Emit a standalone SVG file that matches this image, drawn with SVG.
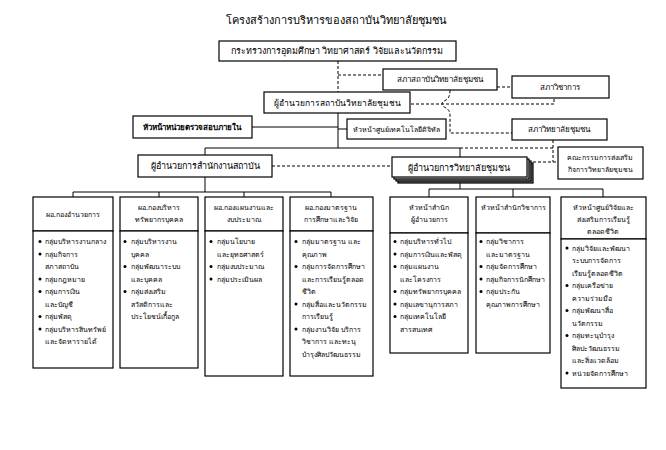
<svg xmlns="http://www.w3.org/2000/svg" width="666" height="450" viewBox="0 0 666 450">
<style>
text{font-family:"Noto Sans","DejaVu Sans",sans-serif;fill:#000}
.t{font-size:11px}
.m{font-size:8.5px}
.h{font-size:9px}
.s{font-size:8px}
.b{font-size:7px}
.c{text-anchor:middle}
.box{fill:#fff;stroke:#000;stroke-width:1.2}
.ln{fill:none;stroke:#000;stroke-width:1}
.dl{fill:none;stroke:#000;stroke-width:1;stroke-dasharray:3,2}
.dot{fill:#000}
</style>
<rect width="666" height="450" fill="#fff"/>
<text class="t c" x="336" y="24">โครงสร้างการบริหารของสถาบันวิทยาลัยชุมชน</text>

<g id="connectors">
<path class="dl" d="M338,61 V92 M338,75 H383 M497,87 H512 M411,104 H554 V98 M450,90 Q450,98 446,100 Q442,102 442,104 Q442,106 446,108 Q450,110 450,116 V133 H512"/>
<path class="ln" d="M338,113 V148 M252,127 H338 M338,129 H347 M205,148 H460 M205,148 V155 M460,148 V157"/>
<path class="dl" d="M460,148 H553 M553,140 V162 M272,166 H392 M533,162 H558"/>
<path class="ln" d="M205,177 V192 M73,192 H331 M73,192 V197 M159,192 V197 M244,192 V197 M331,192 V197"/>
<path class="ln" d="M460,183 V189 M429,189 H603 M429,189 V197 M513,189 V197 M603,189 V197"/>
</g>

<g id="ministry"><rect class="box" x="219" y="41" width="237" height="20"/><text class="h c" x="337" y="54">กระทรวงการอุดมศึกษา วิทยาศาสตร์ วิจัยและนวัตกรรม</text></g>
<g id="inst-council"><rect class="box" x="383" y="69" width="114" height="21"/><text class="s c" x="440" y="82">สภาสถาบันวิทยาลัยชุมชน</text></g>
<g id="academic-council"><rect class="box" x="512" y="76" width="97" height="22"/><text class="s c" x="560" y="90">สภาวิชาการ</text></g>
<g id="inst-director"><rect class="box" x="264" y="92" width="146" height="21"/><text class="m c" x="337" y="106">ผู้อำนวยการสถาบันวิทยาลัยชุมชน</text></g>
<g id="audit"><rect class="box" x="133" y="116" width="119" height="22"/><text class="s c" x="192" y="130" font-weight="bold">หัวหน้าหน่วยตรวจสอบภายใน</text></g>
<g id="digital"><rect class="box" x="347" y="119" width="99" height="20"/><text class="b c" x="396" y="132">หัวหน้าศูนย์เทคโนโลยีดิจิทัล</text></g>
<g id="college-council"><rect class="box" x="512" y="119" width="95" height="21"/><text class="s c" x="559" y="132">สภาวิทยาลัยชุมชน</text></g>
<g id="office-director"><rect class="box" x="138" y="155" width="134" height="22"/><text class="h c" x="205" y="169">ผู้อำนวยการสำนักงานสถาบัน</text></g>
<g id="college-director">
<rect class="box" x="398" y="163" width="135" height="20" style="fill:#777"/>
<rect class="box" x="396" y="161" width="135" height="20" style="fill:#999"/>
<rect class="box" x="394" y="159" width="135" height="20" style="fill:#ccc"/>
<rect class="box" x="392" y="157" width="135" height="20"/>
<text class="h c" x="459" y="171">ผู้อำนวยการวิทยาลัยชุมชน</text></g>
<g id="committee"><rect class="box" x="558" y="147" width="85" height="32"/><text class="b c" x="600" y="160">คณะกรรมการส่งเสริม</text><text class="b c" x="600" y="172">กิจการวิทยาลัยชุมชน</text></g>

<g id="col1">
<rect class="box" x="33" y="197" width="80" height="34"/><rect class="box" x="33" y="231" width="80" height="137"/>
<text class="b c" x="73" y="217">ผอ.กองอำนวยการ</text>
<circle class="dot" cx="40" cy="241.5" r="1.5"/><text class="b" x="45" y="244">กลุ่มบริหารงานกลาง</text>
<circle class="dot" cx="40" cy="254" r="1.5"/><text class="b" x="45" y="256.5">กลุ่มกิจการ</text>
<text class="b" x="45" y="269">สภาสถาบัน</text>
<circle class="dot" cx="40" cy="279" r="1.5"/><text class="b" x="45" y="281.5">กลุ่มกฎหมาย</text>
<circle class="dot" cx="40" cy="291.5" r="1.5"/><text class="b" x="45" y="294">กลุ่มการเงิน</text>
<text class="b" x="45" y="306.5">และบัญชี</text>
<circle class="dot" cx="40" cy="316.5" r="1.5"/><text class="b" x="45" y="319">กลุ่มพัสดุ</text>
<circle class="dot" cx="40" cy="329" r="1.5"/><text class="b" x="45" y="331.5">กลุ่มบริหารสินทรัพย์</text>
<text class="b" x="45" y="344">และจัดหารายได้</text>
</g>

<g id="col2">
<rect class="box" x="120" y="197" width="78" height="34"/><rect class="box" x="120" y="231" width="78" height="137"/>
<text class="b c" x="159" y="210">ผอ.กองบริหาร</text><text class="b c" x="159" y="222">ทรัพยากรบุคคล</text>
<circle class="dot" cx="125" cy="241.5" r="1.5"/><text class="b" x="131" y="244">กลุ่มบริหารงาน</text>
<text class="b" x="131" y="256.5">บุคคล</text>
<circle class="dot" cx="125" cy="266.5" r="1.5"/><text class="b" x="131" y="269">กลุ่มพัฒนาระบบ</text>
<text class="b" x="131" y="281.5">และบุคคล</text>
<circle class="dot" cx="125" cy="291.5" r="1.5"/><text class="b" x="131" y="294">กลุ่มส่งเสริม</text>
<text class="b" x="131" y="306.5">สวัสดิการและ</text>
<text class="b" x="131" y="319">ประโยชน์เกื้อกูล</text>
</g>

<g id="col3">
<rect class="box" x="205" y="197" width="78" height="34"/><rect class="box" x="205" y="231" width="78" height="145"/>
<text class="b c" x="244" y="210">ผอ.กองแผนงานและ</text><text class="b c" x="244" y="222">งบประมาณ</text>
<circle class="dot" cx="211" cy="241.5" r="1.5"/><text class="b" x="217" y="244">กลุ่มนโยบาย</text>
<text class="b" x="217" y="256.5">และยุทธศาสตร์</text>
<circle class="dot" cx="211" cy="266.5" r="1.5"/><text class="b" x="217" y="269">กลุ่มงบประมาณ</text>
<circle class="dot" cx="211" cy="279" r="1.5"/><text class="b" x="217" y="281.5">กลุ่มประเมินผล</text>
</g>

<g id="col4">
<rect class="box" x="290" y="197" width="83" height="34"/><rect class="box" x="290" y="231" width="83" height="145"/>
<text class="b c" x="331" y="210">ผอ.กองมาตรฐาน</text><text class="b c" x="331" y="222">การศึกษาและวิจัย</text>
<circle class="dot" cx="296" cy="241.5" r="1.5"/><text class="b" x="302" y="244">กลุ่มมาตรฐาน และ</text>
<text class="b" x="302" y="256.5">คุณภาพ</text>
<circle class="dot" cx="296" cy="266.5" r="1.5"/><text class="b" x="302" y="269">กลุ่มการจัดการศึกษา</text>
<text class="b" x="302" y="281.5">และการเรียนรู้ตลอด</text>
<text class="b" x="302" y="294">ชีวิต</text>
<circle class="dot" cx="296" cy="304" r="1.5"/><text class="b" x="302" y="306.5">กลุ่มสื่อและนวัตกรรม</text>
<text class="b" x="302" y="319">การเรียนรู้</text>
<circle class="dot" cx="296" cy="329" r="1.5"/><text class="b" x="302" y="331.5">กลุ่มงานวิจัย บริการ</text>
<text class="b" x="302" y="344">วิชาการ และทะนุ</text>
<text class="b" x="302" y="356.5">บำรุงศิลปวัฒนธรรม</text>
</g>

<g id="col5">
<rect class="box" x="390" y="197" width="78" height="36"/><rect class="box" x="390" y="233" width="78" height="120"/>
<text class="b c" x="429" y="210">หัวหน้าสำนัก</text><text class="b c" x="429" y="222">ผู้อำนวยการ</text>
<circle class="dot" cx="395" cy="241.5" r="1.5"/><text class="b" x="400" y="244">กลุ่มบริหารทั่วไป</text>
<circle class="dot" cx="395" cy="254" r="1.5"/><text class="b" x="400" y="256.5">กลุ่มการเงินและพัสดุ</text>
<circle class="dot" cx="395" cy="266.5" r="1.5"/><text class="b" x="400" y="269">กลุ่มแผนงาน</text>
<text class="b" x="400" y="281.5">และโครงการ</text>
<circle class="dot" cx="395" cy="291.5" r="1.5"/><text class="b" x="400" y="294">กลุ่มทรัพยากรบุคคล</text>
<circle class="dot" cx="395" cy="304" r="1.5"/><text class="b" x="400" y="306.5">กลุ่มเลขานุการสภา</text>
<circle class="dot" cx="395" cy="316.5" r="1.5"/><text class="b" x="400" y="319">กลุ่มเทคโนโลยี</text>
<text class="b" x="400" y="331.5">สารสนเทศ</text>
</g>

<g id="col6">
<rect class="box" x="476" y="197" width="74" height="36"/><rect class="box" x="476" y="233" width="74" height="120"/>
<text class="b c" x="513" y="210">หัวหน้าสำนักวิชาการ</text>
<circle class="dot" cx="481" cy="241.5" r="1.5"/><text class="b" x="486" y="244">กลุ่มวิชาการ</text>
<text class="b" x="486" y="256.5">และมาตรฐาน</text>
<circle class="dot" cx="481" cy="266.5" r="1.5"/><text class="b" x="486" y="269">กลุ่มจัดการศึกษา</text>
<circle class="dot" cx="481" cy="279" r="1.5"/><text class="b" x="486" y="281.5">กลุ่มกิจการนักศึกษา</text>
<circle class="dot" cx="481" cy="291.5" r="1.5"/><text class="b" x="486" y="294">กลุ่มประกัน</text>
<text class="b" x="486" y="306.5">คุณภาพการศึกษา</text>
</g>

<g id="col7">
<rect class="box" x="561" y="197" width="85" height="42"/><rect class="box" x="561" y="239" width="85" height="149"/>
<text class="b c" x="603" y="210">หัวหน้าศูนย์วิจัยและ</text><text class="b c" x="603" y="222">ส่งเสริมการเรียนรู้</text><text class="b c" x="603" y="234">ตลอดชีวิต</text>
<circle class="dot" cx="567" cy="248" r="1.5"/><text class="b" x="572" y="250.5">กลุ่มวิจัยและพัฒนา</text>
<text class="b" x="572" y="263">ระบบการจัดการ</text>
<text class="b" x="572" y="275.5">เรียนรู้ตลอดชีวิต</text>
<circle class="dot" cx="567" cy="285.5" r="1.5"/><text class="b" x="572" y="288">กลุ่มเครือข่าย</text>
<text class="b" x="572" y="300.5">ความร่วมมือ</text>
<circle class="dot" cx="567" cy="310.5" r="1.5"/><text class="b" x="572" y="313">กลุ่มพัฒนาสื่อ</text>
<text class="b" x="572" y="325.5">นวัตกรรม</text>
<circle class="dot" cx="567" cy="335.5" r="1.5"/><text class="b" x="572" y="338">กลุ่มทะนุบำรุง</text>
<text class="b" x="572" y="350.5">ศิลปะวัฒนธรรม</text>
<text class="b" x="572" y="363">และสิ่งแวดล้อม</text>
<circle class="dot" cx="567" cy="373" r="1.5"/><text class="b" x="572" y="375.5">หน่วยจัดการศึกษา</text>
</g>
</svg>
